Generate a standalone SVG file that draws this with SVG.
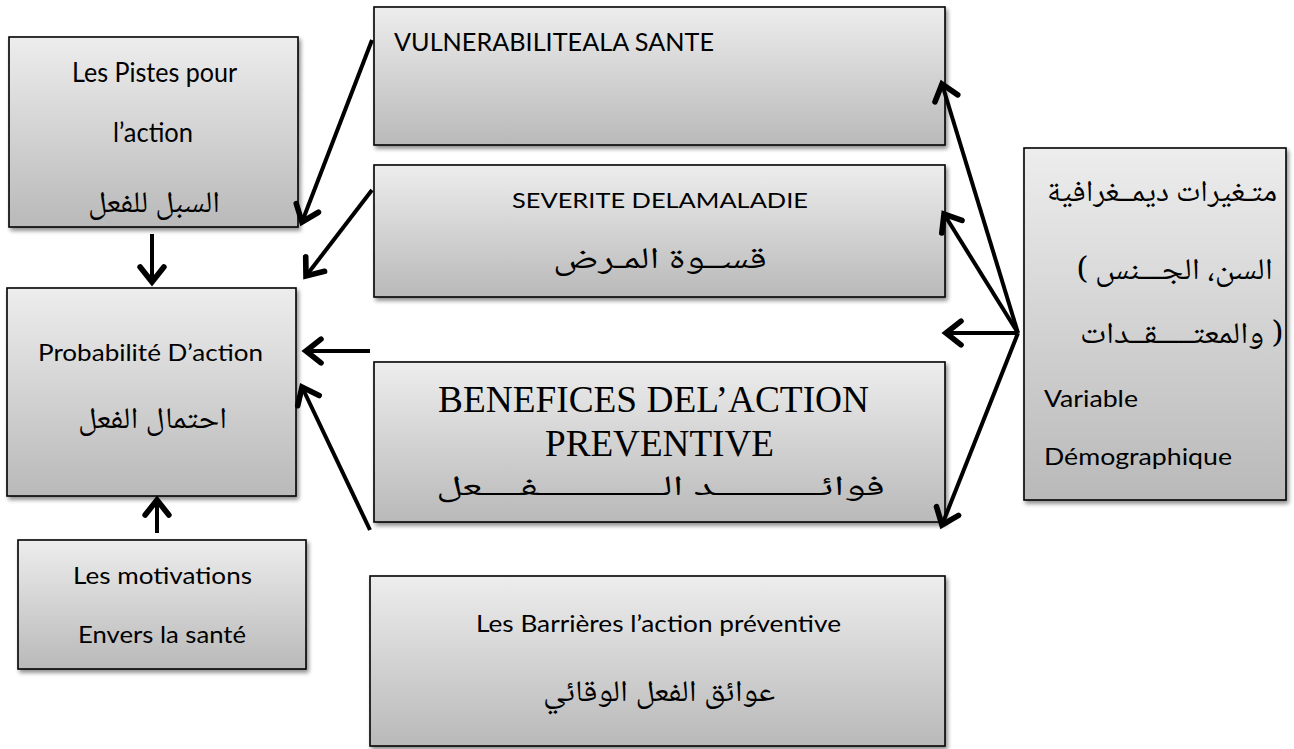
<svg xmlns="http://www.w3.org/2000/svg" width="1294" height="749" viewBox="0 0 1294 749">
  <defs>
    <linearGradient id="boxFill" x1="0" y1="0" x2="0" y2="1">
      <stop offset="0" stop-color="#ededed"/>
      <stop offset="1" stop-color="#b9b9b9"/>
    </linearGradient>
    <filter id="shadow" x="-10%" y="-10%" width="130%" height="130%">
      <feGaussianBlur in="SourceAlpha" stdDeviation="2"/>
      <feOffset dx="2" dy="3" result="b"/>
      <feComponentTransfer><feFuncA type="linear" slope="0.45"/></feComponentTransfer>
      <feMerge><feMergeNode/><feMergeNode in="SourceGraphic"/></feMerge>
    </filter>
    <marker id="head" markerUnits="userSpaceOnUse" markerWidth="30" markerHeight="30" refX="0" refY="0" viewBox="-16 -12 20 24" orient="auto">
      <path d="M-12,-9.5 L0,0 L-12,9.5" fill="none" stroke="#000" stroke-width="4.5" stroke-linecap="round"/>
    </marker>
  </defs>
  <style>
    .box { fill: url(#boxFill); stroke: #000; stroke-width: 1.6; filter: url(#shadow); }
    .lat { font-family: Lato, "Open Sans", "Liberation Sans", sans-serif; fill: #000; }
    .ar { font-family: "Noto Naskh Arabic", "DejaVu Sans", "Noto Sans", sans-serif; fill: #000; }
    .tnr { font-family: "Liberation Serif", serif; fill: #000; }
    .arrow { fill: none; stroke: #000; stroke-width: 4; marker-end: url(#head); }
  </style>

  <g id="pistes">
    <rect class="box" x="9" y="37" width="289" height="190"/>
    <text class="lat" x="72" y="82" font-size="26" textLength="165" lengthAdjust="spacingAndGlyphs">Les Pistes pour</text>
    <text class="lat" x="113" y="142" font-size="26" textLength="80" lengthAdjust="spacingAndGlyphs">l’action</text>
    <text class="ar" x="88" y="212" font-size="30" textLength="132" lengthAdjust="spacingAndGlyphs">السبل للفعل</text>
  </g>

  <g id="probabilite">
    <rect class="box" x="7" y="288" width="289" height="208"/>
    <text class="lat" x="38" y="361" font-size="24" textLength="225" lengthAdjust="spacingAndGlyphs">Probabilité D’action</text>
    <text class="ar" x="78" y="428" font-size="30" textLength="149" lengthAdjust="spacingAndGlyphs">احتمال الفعل</text>
  </g>

  <g id="motivations">
    <rect class="box" x="18" y="540" width="288" height="129"/>
    <text class="lat" x="73" y="584" font-size="24" textLength="179" lengthAdjust="spacingAndGlyphs">Les motivations</text>
    <text class="lat" x="78" y="643" font-size="24" textLength="168" lengthAdjust="spacingAndGlyphs">Envers la santé</text>
  </g>

  <g id="vulnerabilite">
    <rect class="box" x="374" y="7" width="571" height="138"/>
    <text class="lat" x="394" y="51" font-size="25" textLength="320" lengthAdjust="spacingAndGlyphs">VULNERABILITEALA SANTE</text>
  </g>

  <g id="severite">
    <rect class="box" x="374" y="165" width="571" height="132"/>
    <text class="lat" x="512" y="208" font-size="22" textLength="296" lengthAdjust="spacingAndGlyphs">SEVERITE DELAMALADIE</text>
    <text class="ar" x="553" y="268" font-size="30" textLength="214" lengthAdjust="spacingAndGlyphs">قســوة المـرض</text>
  </g>

  <g id="benefices">
    <rect class="box" x="374" y="362" width="571" height="160"/>
    <text class="tnr" x="438" y="412" font-size="37" textLength="431" lengthAdjust="spacingAndGlyphs">BENEFICES DEL’ACTION</text>
    <text class="tnr" x="545" y="456" font-size="37" textLength="229" lengthAdjust="spacingAndGlyphs">PREVENTIVE</text>
    <text class="ar" x="436" y="495" font-size="28" textLength="449" lengthAdjust="spacingAndGlyphs">فوائـــــــــــد الـــــــــــــفــــعل</text>
  </g>

  <g id="barrieres">
    <rect class="box" x="370" y="576" width="575" height="170"/>
    <text class="lat" x="476" y="632" font-size="24" textLength="365" lengthAdjust="spacingAndGlyphs">Les Barrières l’action préventive</text>
    <text class="ar" x="543" y="701" font-size="30" textLength="232" lengthAdjust="spacingAndGlyphs">عوائق الفعل الوقائي</text>
  </g>

  <g id="demographie">
    <rect class="box" x="1024" y="148" width="262" height="352"/>
    <text class="ar" x="1277" y="201" font-size="30" text-anchor="end" textLength="230" lengthAdjust="spacingAndGlyphs">متـغيرات ديمــغرافية</text>
    <!-- brackets set apart so they keep their left/right places -->
    <text class="ar" x="1077" y="279" font-size="30">(</text>
    <text class="ar" x="1273" y="279" font-size="30" text-anchor="end" textLength="178" lengthAdjust="spacingAndGlyphs">السن، الجـــنس</text>
    <text class="ar" x="1080" y="343" font-size="30" textLength="184" lengthAdjust="spacingAndGlyphs">والمعتـــــقــدات</text>
    <text class="ar" x="1283" y="343" font-size="30" text-anchor="end">)</text>
    <text class="lat" x="1044" y="407" font-size="24" textLength="94" lengthAdjust="spacingAndGlyphs">Variable</text>
    <text class="lat" x="1044" y="465" font-size="24" textLength="188" lengthAdjust="spacingAndGlyphs">Démographique</text>
  </g>

  <g id="connectors">
    <line class="arrow" x1="372" y1="40" x2="302" y2="222"/>
    <line class="arrow" x1="372" y1="190" x2="306" y2="276"/>
    <line class="arrow" x1="152" y1="234" x2="152" y2="282"/>
    <line class="arrow" x1="370" y1="351" x2="306" y2="351"/>
    <line class="arrow" x1="370" y1="530" x2="302" y2="387"/>
    <line class="arrow" x1="157" y1="533" x2="157" y2="500"/>
    <line class="arrow" x1="1018" y1="333" x2="942" y2="84"/>
    <line class="arrow" x1="1018" y1="333" x2="944" y2="214"/>
    <line class="arrow" x1="1018" y1="333" x2="946" y2="333"/>
    <line class="arrow" x1="1018" y1="333" x2="942" y2="525"/>
  </g>
</svg>
